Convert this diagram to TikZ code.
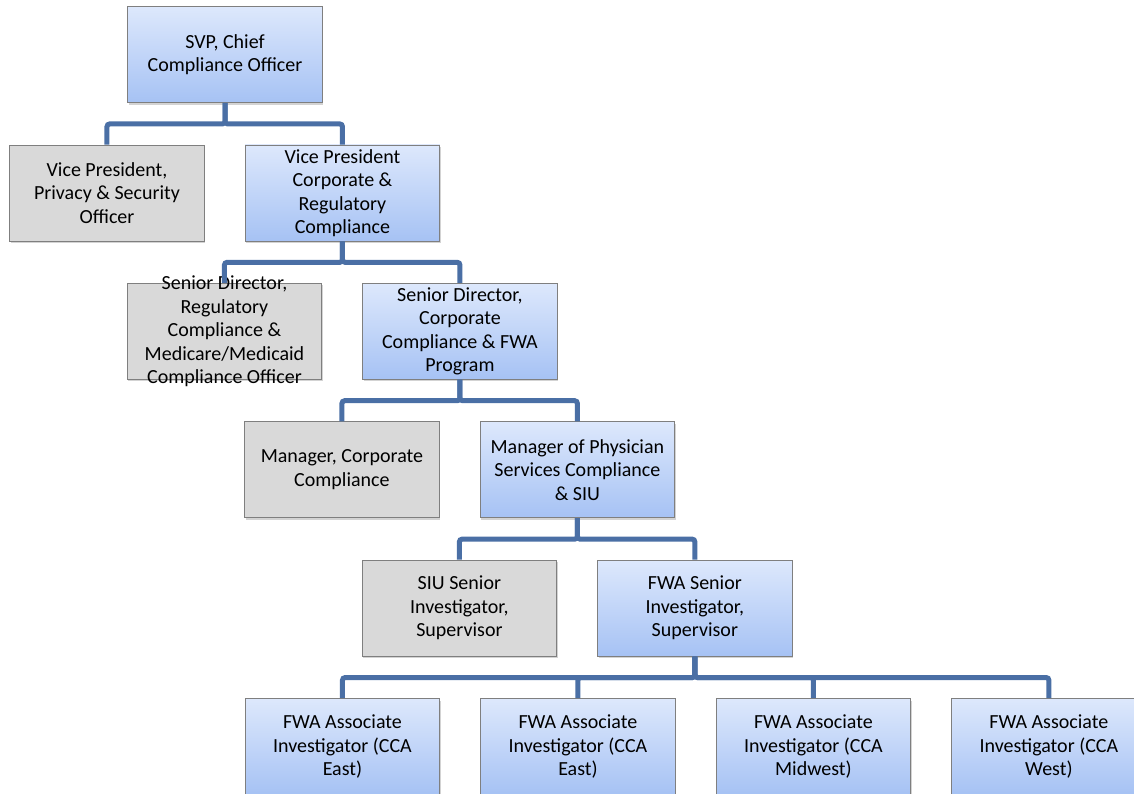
\documentclass[tikz,border=0pt]{standalone}
\usepackage{fontspec}
\setmainfont{Carlito}
\usetikzlibrary{positioning,shadows}
\definecolor{linkblue}{HTML}{4A6FA5}
\definecolor{bluetop}{HTML}{DDE8FC}
\definecolor{bluebot}{HTML}{A6C2F4}
\definecolor{grayfill}{HTML}{D9D9D9}
\definecolor{boxedge}{HTML}{7F7F7F}

\begin{document}
\begin{tikzpicture}[node distance=31.2pt and 30pt, font=\fontsize{15}{17.6}\selectfont,
  box/.style={rectangle, draw=boxedge, line width=0.6pt, minimum width=146pt, minimum height=72pt,
    align=center, inner sep=2pt,
    drop shadow={opacity=0.35, shadow xshift=0.8pt, shadow yshift=-1.6pt}},
  bluebox/.style={box, top color=bluetop, bottom color=bluebot},
  graybox/.style={box, fill=grayfill},
  link/.style={draw=linkblue, line width=3.75pt, rounded corners=2pt}]

  \useasboundingbox (-168.75pt,40.9pt) rectangle (681.75pt,-553.9pt);

  % chain of the blue boxes, grey sibling on the left
  \node[bluebox] (svp) at (0,0) {SVP, Chief\\Compliance Officer};
  \node[bluebox, below=of svp, xshift=88.1pt] (vpcorp) {Vice President\\Corporate \&\\Regulatory\\Compliance};
  \node[graybox, left=of vpcorp] (vppriv) {Vice President,\\Privacy \& Security\\Officer};

  \node[bluebox, below=of vpcorp, xshift=88.1pt] (sdcorp) {Senior Director,\\Corporate\\Compliance \& FWA\\Program};
  \node[graybox, left=of sdcorp, label={[align=center]center:{Senior Director,\\Regulatory\\Compliance \&\\Medicare/Medicaid\\Compliance Officer}}] (sdreg) {};

  \node[bluebox, below=of sdcorp, xshift=88.1pt] (mgrphys) {Manager of Physician\\Services Compliance\\\& SIU};
  \node[graybox, left=of mgrphys] (mgrcorp) {Manager, Corporate\\Compliance};

  \node[bluebox, below=of mgrphys, xshift=88.1pt] (fwasr) {FWA Senior\\Investigator,\\Supervisor};
  \node[graybox, left=of fwasr] (siusr) {SIU Senior\\Investigator,\\Supervisor};

  \node[bluebox, below=of fwasr, xshift=-264.3pt] (fwaeast) {FWA Associate\\Investigator (CCA\\East)};
  \node[bluebox, right=of fwaeast] (fwaeastb) {FWA Associate\\Investigator (CCA\\East)};
  \node[bluebox, right=of fwaeastb] (fwamid) {FWA Associate\\Investigator (CCA\\Midwest)};
  \node[bluebox, right=of fwamid] (fwawest) {FWA Associate\\Investigator (CCA\\West)};

  % connectors
  \path[link] (svp.south) -- ++(0,-15.75pt) -| (vppriv.north);
  \path[link] (svp.south) -- ++(0,-15.75pt) -| (vpcorp.north);
  \path[link] (vpcorp.south) -- ++(0,-15.75pt) -| (sdreg.north);
  \path[link] (vpcorp.south) -- ++(0,-15.75pt) -| (sdcorp.north);
  \path[link] (sdcorp.south) -- ++(0,-15.75pt) -| (mgrcorp.north);
  \path[link] (sdcorp.south) -- ++(0,-15.75pt) -| (mgrphys.north);
  \path[link] (mgrphys.south) -- ++(0,-15.75pt) -| (siusr.north);
  \path[link] (mgrphys.south) -- ++(0,-15.75pt) -| (fwasr.north);
  \foreach \kid in {fwaeast,fwaeastb,fwamid,fwawest}
    \path[link] (fwasr.south) -- ++(0,-15.75pt) -| (\kid.north);
\end{tikzpicture}
\end{document}
